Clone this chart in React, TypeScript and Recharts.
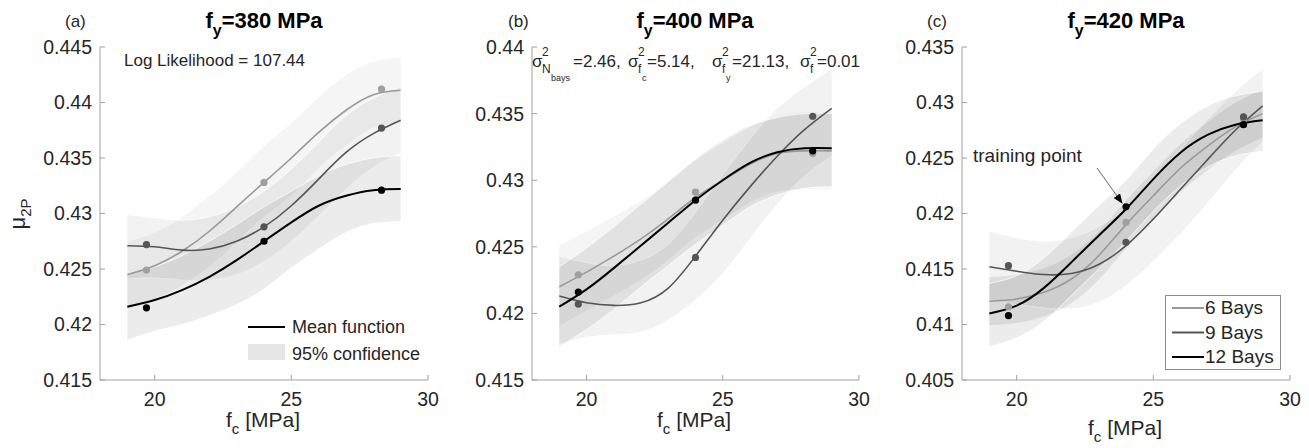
import React from 'react';
import { ComposedChart, Line, Area, Scatter, XAxis, YAxis } from 'recharts';

const FONT = '"Liberation Sans", Arial, Helvetica, sans-serif';
const AXIS = '#a0a0a0';
const TXT = '#262626';
const C6 = '#999999';
const C9 = '#555555';
const C12 = '#000000';

// shared x grid (f_c, MPa) and training f_c values
const FC = [19, 20, 21, 22, 23, 24, 25, 26, 27, 28, 29];
const FC_TICKS = [20, 25, 30];
const TRAIN_FC = [19.7, 24, 28.3];

// ---------- panel (a) fy = 380 MPa ----------
const A_TICKS = [0.415, 0.42, 0.425, 0.43, 0.435, 0.44, 0.445];
const A_M6 = [0.4245, 0.4253, 0.4266, 0.4284, 0.4306, 0.4328, 0.4350, 0.4373, 0.4393, 0.4407, 0.4411];
const A_M9 = [0.4271, 0.427, 0.4267, 0.4268, 0.4275, 0.4288, 0.4307, 0.4331, 0.4355, 0.4372, 0.4384];
const A_M12 = [0.4216, 0.4222, 0.4231, 0.4243, 0.4258, 0.4275, 0.4292, 0.4307, 0.4316, 0.4321, 0.4322];
const A_LO6 = [0.4215, 0.4223, 0.4235, 0.4252, 0.4274, 0.4297, 0.4316, 0.4341, 0.4361, 0.4377, 0.4381];
const A_HI6 = [0.4275, 0.4283, 0.4297, 0.4316, 0.4337, 0.4361, 0.4382, 0.4405, 0.4425, 0.4437, 0.4441];
const A_LO9 = [0.4241, 0.4242, 0.424, 0.424, 0.4245, 0.4257, 0.4275, 0.4298, 0.4322, 0.4342, 0.4354];
const A_HI9 = [0.4299, 0.4296, 0.4294, 0.4297, 0.4306, 0.432, 0.434, 0.4364, 0.4388, 0.4404, 0.4414];
const A_LO12 = [0.4186, 0.4194, 0.42, 0.4208, 0.4218, 0.4232, 0.4251, 0.4268, 0.4283, 0.4291, 0.4293];
const A_HI12 = [0.4246, 0.4252, 0.4262, 0.4275, 0.429, 0.4306, 0.432, 0.4334, 0.4344, 0.435, 0.4352];
const A_P6 = [0.4249, 0.4328, 0.4412];
const A_P9 = [0.4272, 0.4288, 0.4377];
const A_P12 = [0.4215, 0.4275, 0.4321];

// ---------- panel (b) fy = 400 MPa ----------
const B_TICKS = [0.415, 0.42, 0.425, 0.43, 0.435, 0.44];
const B_M6 = [0.422, 0.4231, 0.4243, 0.4256, 0.4271, 0.4287, 0.4300, 0.4312, 0.432, 0.4322, 0.4322];
const B_M9 = [0.4213, 0.4208, 0.4206, 0.4208, 0.4219, 0.4243, 0.427, 0.4295, 0.4318, 0.4338, 0.4354];
const B_M12 = [0.4205, 0.4218, 0.4234, 0.4251, 0.4268, 0.4285, 0.4300, 0.4313, 0.4321, 0.4324, 0.4324];
const B_LO6 = [0.419, 0.4202, 0.4213, 0.4225, 0.424, 0.4257, 0.427, 0.4283, 0.4291, 0.4293, 0.4293];
const B_HI6 = [0.4251, 0.4262, 0.4273, 0.4285, 0.4299, 0.4315, 0.4328, 0.434, 0.4348, 0.4351, 0.4351];
const B_LO9 = [0.4177, 0.4182, 0.4184, 0.4186, 0.4195, 0.421, 0.423, 0.4256, 0.4282, 0.4303, 0.4318];
const B_HI9 = [0.4243, 0.4238, 0.4236, 0.424, 0.4252, 0.4276, 0.4304, 0.4331, 0.4354, 0.437, 0.4384];
const B_LO12 = [0.4175, 0.4188, 0.4203, 0.422, 0.4236, 0.4252, 0.4266, 0.428, 0.4289, 0.4294, 0.4295];
const B_HI12 = [0.4235, 0.4249, 0.4265, 0.4282, 0.4299, 0.4316, 0.433, 0.4341, 0.4347, 0.435, 0.435];
const B_P6 = [0.4229, 0.4291, 0.432];
const B_P9 = [0.4207, 0.4242, 0.4348];
const B_P12 = [0.4216, 0.4285, 0.4322];

// ---------- panel (c) fy = 420 MPa ----------
const C_TICKS = [0.405, 0.41, 0.415, 0.42, 0.425, 0.43, 0.435];
const C_M6 = [0.4121, 0.4123, 0.4129, 0.4141, 0.4162, 0.419, 0.4216, 0.4241, 0.4261, 0.4278, 0.429];
const C_M9 = [0.4152, 0.4148, 0.4145, 0.4146, 0.4154, 0.4171, 0.4195, 0.4222, 0.4249, 0.4275, 0.4297];
const C_M12 = [0.411, 0.4117, 0.4133, 0.4156, 0.418, 0.4204, 0.4231, 0.4255, 0.4271, 0.428, 0.4284];
const C_LO6 = [0.4099, 0.4101, 0.4107, 0.4119, 0.414, 0.4168, 0.4194, 0.4219, 0.4239, 0.4256, 0.4268];
const C_HI6 = [0.4143, 0.4145, 0.4151, 0.4163, 0.4184, 0.4212, 0.4238, 0.4263, 0.4283, 0.43, 0.4312];
const C_LO9 = [0.4122, 0.4118, 0.4115, 0.4114, 0.412, 0.4135, 0.4157, 0.4182, 0.421, 0.4239, 0.4265];
const C_HI9 = [0.4184, 0.4178, 0.4175, 0.4178, 0.4188, 0.4205, 0.423, 0.4258, 0.4285, 0.431, 0.433];
const C_LO12 = [0.408, 0.4088, 0.4103, 0.4126, 0.415, 0.4175, 0.4202, 0.4225, 0.4242, 0.4252, 0.4256];
const C_HI12 = [0.4137, 0.4144, 0.416, 0.4183, 0.4207, 0.423, 0.4258, 0.4281, 0.4297, 0.4306, 0.431];
const C_P6 = [0.4116, 0.4192, 0.4285];
const C_P9 = [0.4153, 0.4174, 0.4287];
const C_P12 = [0.4108, 0.4206, 0.428];

const PANEL_TITLES = ['380 MPa', '400 MPa', '420 MPa'];
const PANEL_TAGS = ['(a)', '(b)', '(c)'];
const LEGEND_C = ['6 Bays', '9 Bays', '12 Bays'];

function buildRows(m6: number[], m9: number[], m12: number[], lo6: number[], hi6: number[], lo9: number[], hi9: number[], lo12: number[], hi12: number[]) {
  return FC.map((x, i) => ({
    x,
    m6: m6[i],
    m9: m9[i],
    m12: m12[i],
    b6: [lo6[i], hi6[i]],
    b9: [lo9[i], hi9[i]],
    b12: [lo12[i], hi12[i]],
  }));
}
const pts = (vals: number[]) => TRAIN_FC.map((x, i) => ({ x, y: vals[i] }));

const XTick = (props: any) => {
  const { x, y, payload } = props;
  return (
    <g>
      <line x1={x} x2={x} y1={y - 12} y2={y - 17} stroke={AXIS} strokeWidth={1} />
      <text x={x} y={y} dy="0.71em" textAnchor="middle" fill={TXT} fontSize={19.5} fontFamily={FONT}>
        {String(payload.value)}
      </text>
    </g>
  );
};
const YTick = (props: any) => {
  const { x, y, payload } = props;
  return (
    <g>
      <line x1={x + 8} x2={x + 13} y1={y} y2={y} stroke={AXIS} strokeWidth={1} />
      <text x={x} y={y} dy="0.355em" textAnchor="end" fill={TXT} fontSize={19.5} fontFamily={FONT}>
        {String(payload.value)}
      </text>
    </g>
  );
};

const dotShape = (color: string) => (p: any) => <circle cx={p.cx} cy={p.cy} r={3.6} fill={color} />;

function Panel(props: { left: number; width: number; mLeft: number; mRight: number; rows: any[]; p6: number[]; p9: number[]; p12: number[]; ticks: number[]; bandScale: number }) {
  const { left, width, mLeft, mRight, rows, p6, p9, p12, ticks, bandScale } = props;
  const dom: [number, number] = [ticks[0], ticks[ticks.length - 1]];
  return (
    <div style={{ position: 'absolute', left, top: 0 }}>
      <ComposedChart width={width} height={448} data={rows} margin={{ top: 47, bottom: 28, left: mLeft, right: mRight }}>
        <XAxis dataKey="x" type="number" domain={[18, 30]} ticks={FC_TICKS} allowDataOverflow height={40}
          axisLine={{ stroke: AXIS }} tickLine={false} tickSize={0} tickMargin={12} tick={<XTick />} interval={0} />
        <YAxis type="number" domain={dom} ticks={ticks} allowDataOverflow width={60}
          axisLine={{ stroke: AXIS }} tickLine={false} tickSize={0} tickMargin={8} tick={<YTick />} interval={0} />
        <Area dataKey="b6" type="natural" fill="#000" fillOpacity={0.04 * bandScale} stroke="#fff" strokeWidth={0.7} isAnimationActive={false} />
        <Area dataKey="b9" type="natural" fill="#000" fillOpacity={0.05} stroke="#fff" strokeWidth={0.7} isAnimationActive={false} />
        <Area dataKey="b12" type="natural" fill="#000" fillOpacity={0.075} stroke="#fff" strokeWidth={0.7} isAnimationActive={false} />
        <Line dataKey="m6" type="natural" stroke={C6} strokeWidth={1.6} dot={false} isAnimationActive={false} />
        <Line dataKey="m9" type="natural" stroke={C9} strokeWidth={1.6} dot={false} isAnimationActive={false} />
        <Line dataKey="m12" type="natural" stroke={C12} strokeWidth={2} dot={false} isAnimationActive={false} />
        <Scatter data={pts(p6)} dataKey="y" shape={dotShape('#a0a0a0')} isAnimationActive={false} />
        <Scatter data={pts(p9)} dataKey="y" shape={dotShape(C9)} isAnimationActive={false} />
        <Scatter data={pts(p12)} dataKey="y" shape={dotShape(C12)} isAnimationActive={false} />
      </ComposedChart>
    </div>
  );
}

function Title({ cx, text }: { cx: number; text: string }) {
  return (
    <text x={cx} y={28} textAnchor="middle" fontSize={22} fontWeight="bold" fill="#000" fontFamily={FONT}>
      f<tspan dy={8} fontSize={16}>y</tspan><tspan dy={-8}>={text}</tspan>
    </text>
  );
}
function XLabel({ cx, y }: { cx: number; y: number }) {
  return (
    <text x={cx} y={y} textAnchor="middle" fontSize={21} fill={TXT} fontFamily={FONT}>
      f<tspan dy={7} fontSize={15}>c</tspan><tspan dy={-7}> [MPa]</tspan>
    </text>
  );
}

function Sigma({ x, sub, subsub }: { x: number; sub: string; subsub?: string }) {
  return (
    <g fontFamily={FONT} fill={TXT}>
      <text x={x} y={67} fontSize={17}>σ</text>
      <text x={x + 10} y={56} fontSize={12}>2</text>
      <text x={x + 10} y={73} fontSize={12}>{sub}</text>
      {subsub ? <text x={x + (sub === 'N' ? 19 : 14)} y={81} fontSize={9}>{subsub}</text> : null}
    </g>
  );
}

export default function App() {
  const rowsA = buildRows(A_M6, A_M9, A_M12, A_LO6, A_HI6, A_LO9, A_HI9, A_LO12, A_HI12);
  const rowsB = buildRows(B_M6, B_M9, B_M12, B_LO6, B_HI6, B_LO9, B_HI9, B_LO12, B_HI12);
  const rowsC = buildRows(C_M6, C_M9, C_M12, C_LO6, C_HI6, C_LO9, C_HI9, C_LO12, C_HI12);
  return (
    <div style={{ position: 'absolute', left: 0, top: 0, width: 1309, height: 448, background: '#fff', overflow: 'hidden' }}>
      <Panel left={0} width={452} mLeft={40} mRight={24} rows={rowsA} p6={A_P6} p9={A_P9} p12={A_P12} ticks={A_TICKS} bandScale={1} />
      <Panel left={436} width={448} mLeft={36} mRight={25} rows={rowsB} p6={B_P6} p9={B_P9} p12={B_P12} ticks={B_TICKS} bandScale={1} />
      <Panel left={872} width={437} mLeft={30} mRight={19} rows={rowsC} p6={C_P6} p9={C_P9} p12={C_P12} ticks={C_TICKS} bandScale={2} />
      <svg width={1309} height={448} style={{ position: 'absolute', left: 0, top: 0, pointerEvents: 'none' }}>
        <defs>
          <marker id="arrowHead" markerWidth="10" markerHeight="8" refX="9" refY="4" orient="auto" markerUnits="userSpaceOnUse">
            <path d="M0,0 L10,4 L0,8 Z" fill="#000" />
          </marker>
        </defs>
        <text x={65} y={27} fontSize={17} fill={TXT} fontFamily={FONT}>{PANEL_TAGS[0]}</text>
        <text x={508} y={27} fontSize={17} fill={TXT} fontFamily={FONT}>{PANEL_TAGS[1]}</text>
        <text x={927} y={27} fontSize={17} fill={TXT} fontFamily={FONT}>{PANEL_TAGS[2]}</text>
        <Title cx={264} text={PANEL_TITLES[0]} />
        <Title cx={695} text={PANEL_TITLES[1]} />
        <Title cx={1126} text={PANEL_TITLES[2]} />
        <text transform="translate(25,214) rotate(-90)" textAnchor="middle" fontSize={22} fill={TXT} fontFamily={FONT}>
          μ<tspan dy={6} fontSize={15}>2P</tspan>
        </text>
        <XLabel cx={263} y={427} />
        <XLabel cx={694} y={427} />
        <XLabel cx={1125} y={435} />
        <text x={124} y={66} fontSize={17} fill={TXT} fontFamily={FONT}>Log Likelihood = 107.44</text>
        <line x1={248} x2={285} y1={327} y2={327} stroke="#000" strokeWidth={2} />
        <text x={292} y={333} fontSize={18} fill={TXT} fontFamily={FONT}>Mean function</text>
        <rect x={248} y={344} width={37} height={16} fill="#e6e6e6" />
        <text x={292} y={360} fontSize={18} fill={TXT} fontFamily={FONT}>95% confidence</text>
        <Sigma x={532} sub="N" subsub="bays" />
        <text x={573} y={67} fontSize={17} fill={TXT} fontFamily={FONT}>=2.46,</text>
        <Sigma x={628} sub="f" subsub="c" />
        <text x={647} y={67} fontSize={17} fill={TXT} fontFamily={FONT}>=5.14,</text>
        <Sigma x={712} sub="f" subsub="y" />
        <text x={732} y={67} fontSize={17} fill={TXT} fontFamily={FONT}>=21.13,</text>
        <Sigma x={800} sub="f" />
        <text x={817} y={67} fontSize={17} fill={TXT} fontFamily={FONT}>=0.01</text>
        <text x={973} y={162} fontSize={19} fill={TXT} fontFamily={FONT}>training point</text>
        <line x1={1097} y1={168} x2={1122} y2={203} stroke="#444" strokeWidth={0.8} markerEnd="url(#arrowHead)" />
        <rect x={1165.5} y={295.5} width={115} height={74} fill="#fff" stroke="#8c8c8c" strokeWidth={1} />
        {LEGEND_C.map((lab, i) => (
          <g key={lab}>
            <line x1={1172} x2={1204} y1={308 + i * 24.5} y2={308 + i * 24.5} stroke={[C6, C9, C12][i]} strokeWidth={2} />
            <text x={1205} y={314 + i * 24.5} fontSize={19} fill={TXT} fontFamily={FONT}>{lab}</text>
          </g>
        ))}
      </svg>
    </div>
  );
}
